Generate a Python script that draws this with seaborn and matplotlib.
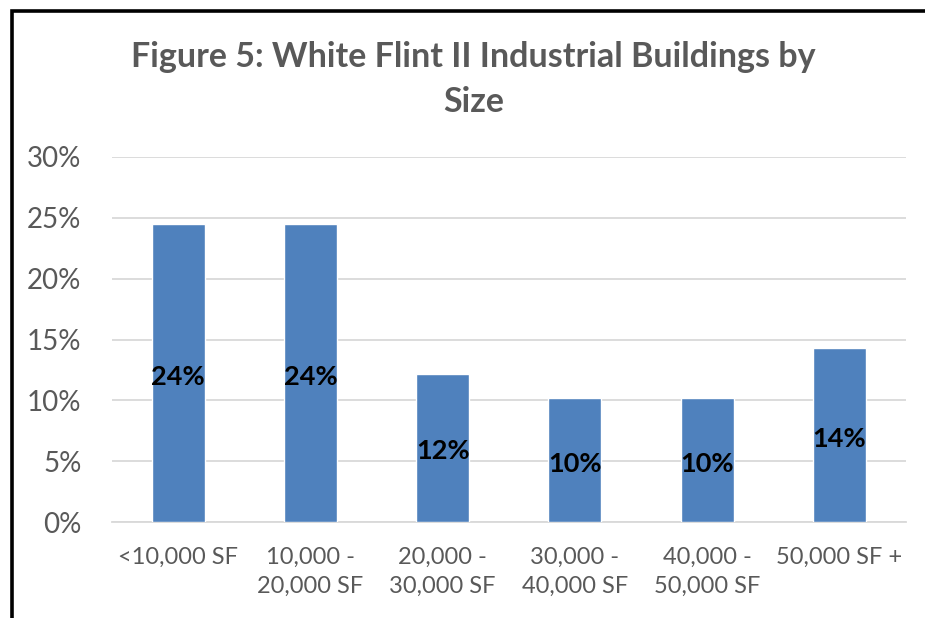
import matplotlib
matplotlib.use("Agg")
import matplotlib.pyplot as plt
from matplotlib.patches import Rectangle
from matplotlib.ticker import PercentFormatter
import seaborn as sns
import pandas as pd

# Building size classes and their share of industrial buildings
size_classes = ["<10,000 SF", "10,000 -\n20,000 SF", "20,000 -\n30,000 SF",
                "30,000 -\n40,000 SF", "40,000 -\n50,000 SF", "50,000 SF +"]
shares = [0.245, 0.245, 0.122, 0.102, 0.102, 0.143]
y_ticks = [0.0, 0.05, 0.10, 0.15, 0.20, 0.25, 0.30]
title = "Figure 5: White Flint II Industrial Buildings by\nSize"

sns.set_style("white")
plt.rcParams["font.family"] = ["Lato", "DejaVu Sans"]

text_grey = "#595959"
bar_blue = "#4F81BD"
grid_grey = "#D9D9D9"

df = pd.DataFrame({"size": size_classes, "share": shares})

fig = plt.figure(figsize=(9.25, 6.18), dpi=100)
ax = fig.add_axes([0.121, 0.155, 0.858, 0.591])

sns.barplot(data=df, x="size", y="share", color=bar_blue, width=0.4,
            saturation=1, ax=ax, zorder=3)

ax.set_xlim(-0.5, len(size_classes) - 0.5)
ax.set_ylim(0, 0.30)
ax.set_yticks(y_ticks)
ax.yaxis.set_major_formatter(PercentFormatter(1.0, decimals=0))
ax.grid(axis="y", color=grid_grey, linewidth=1.3, zorder=0)
ax.set_axisbelow(True)
for side in ["top", "right", "left"]:
    ax.spines[side].set_visible(False)
ax.spines["bottom"].set_color(grid_grey)
ax.spines["bottom"].set_linewidth(1.3)
ax.tick_params(axis="both", length=0)
ax.tick_params(axis="y", labelsize=20, labelcolor=text_grey, pad=22)
ax.tick_params(axis="x", labelsize=17, labelcolor=text_grey, pad=18)
for lbl in ax.get_xticklabels():
    lbl.set_linespacing(1.45)
ax.set_xlabel("")
ax.set_ylabel("")

# Value labels in the middle of each bar
for container in ax.containers:
    for rect, v in zip(container.patches, container.datavalues):
        ax.annotate(f"{v:.0%}",
                    (rect.get_x() + rect.get_width() / 2, v / 2),
                    xytext=(0, -2.5), textcoords="offset points",
                    ha="center", va="center", fontsize=19.5,
                    fontweight="bold", color="black", zorder=4)

fig.text(0.512, 0.872, title, ha="center", va="center", fontsize=24.5,
         fontweight="bold", color=text_grey, linespacing=1.5)

# Chart frame
fig.patches.append(Rectangle((11.5 / 925, -0.1), 1.2, 1 - 10.5 / 618 + 0.1,
                             transform=fig.transFigure, fill=False,
                             edgecolor="black", linewidth=2.6))

fig.savefig("out.png", dpi=100, facecolor="white")
